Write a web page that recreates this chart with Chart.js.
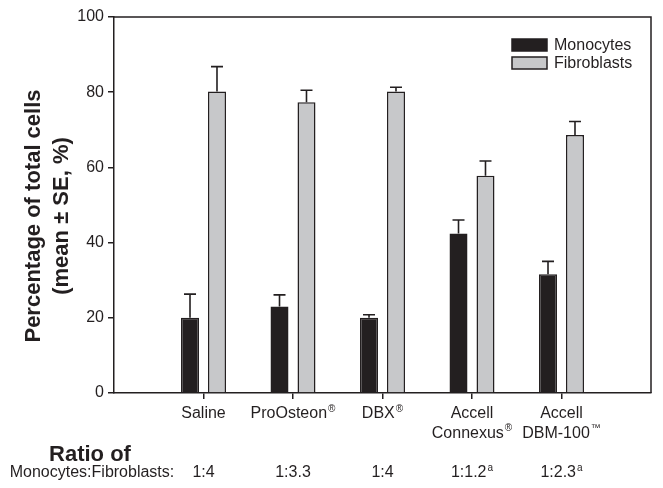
<!DOCTYPE html>
<html>
<head>
<meta charset="utf-8">
<script src="https://cdn.jsdelivr.net/npm/chart.js@4"></script>
<style>
    html, body { margin: 0; padding: 0; background: #fff; }
    #wrap { width: 663px; height: 488px; }
</style>
</head>
<body>
<div id="wrap"><canvas id="chart" width="663" height="488"></canvas></div>
<script>
// data
const categories = ['Saline', 'ProOsteon®', 'DBX®', 'Accell Connexus®', 'Accell DBM-100™'];
const monocytes = [20.0, 23.0, 20.0, 42.4, 31.6];
const monocytesSE = [6.3, 3.1, 0.8, 3.6, 3.4];
const fibroblasts = [80.2, 77.3, 80.2, 57.8, 68.6];
const fibroblastsSE = [6.6, 3.2, 1.1, 3.9, 3.6];
const ratios = ['1:4', '1:3.3', '1:4', '1:1.2', '1:2.3'];
const ratioNotes = ['', '', '', 'a', 'a'];
const yTicks = [0, 20, 40, 60, 80, 100];

const INK = '#231f20';
const FONT = '"Liberation Sans", Arial, sans-serif';

// empty slot at both ends so the groups sit one step in from the frame
const labels = ['', ...categories, ''];
const pad = arr => [null, ...arr, null];

// text with a trailing ®, ™ or note letter drawn small and raised
function drawSup(ctx, main, sup, x, y, size) {
    ctx.font = size + 'px ' + FONT;
    const w1 = ctx.measureText(main).width;
    ctx.font = Math.round(size * 0.6) + 'px ' + FONT;
    const w2 = sup ? ctx.measureText(sup).width + 1 : 0;
    const left = x - (w1 + w2) / 2;
    ctx.textAlign = 'left';
    ctx.font = size + 'px ' + FONT;
    ctx.fillText(main, left, y);
    if (sup) {
        ctx.font = Math.round(size * 0.6) + 'px ' + FONT;
        ctx.fillText(sup, left + w1 + 1, y - size * 0.4);
    }
}

function splitSup(text) {
    const m = text.match(/^(.*?)([®™]?)$/);
    return [m[1], m[2]];
}

const errorBarPlugin = {
    id: 'errorBars',
    afterDatasetsDraw(chart) {
        const ctx = chart.ctx;
        const y = chart.scales.y;
        const errs = [monocytesSE, fibroblastsSE];
        ctx.save();
        ctx.strokeStyle = INK;
        ctx.lineWidth = 1.6;
        chart.data.datasets.forEach((ds, i) => {
            const meta = chart.getDatasetMeta(i);
            meta.data.forEach((bar, j) => {
                const v = ds.data[j];
                if (v === null) return;
                const top = y.getPixelForValue(v + errs[i][j - 1]);
                ctx.beginPath();
                ctx.moveTo(bar.x, bar.y);
                ctx.lineTo(bar.x, top);
                ctx.moveTo(bar.x - 6, top);
                ctx.lineTo(bar.x + 6, top);
                ctx.stroke();
            });
        });
        ctx.restore();
    }
};

const decorPlugin = {
    id: 'decor',
    afterDraw(chart) {
        const ctx = chart.ctx;
        const area = chart.chartArea;
        const x = chart.scales.x;
        ctx.save();

        // top and right frame
        ctx.strokeStyle = INK;
        ctx.lineWidth = 1.5;
        ctx.beginPath();
        ctx.moveTo(area.left, area.top);
        ctx.lineTo(area.right, area.top);
        ctx.lineTo(area.right, area.bottom);
        ctx.stroke();

        ctx.fillStyle = INK;
        ctx.textBaseline = 'alphabetic';

        // category labels
        categories.forEach((name, i) => {
            const cx = x.getPixelForValue(i + 1);
            const lines = name.indexOf(' ') > 0 ? [name.slice(0, name.indexOf(' ')), name.slice(name.indexOf(' ') + 1)] : [name];
            lines.forEach((line, k) => {
                const [main, sup] = splitSup(line);
                drawSup(ctx, main, sup, cx, 418 + k * 19.5, 16);
            });
            drawSup(ctx, ratios[i], ratioNotes[i], cx, 477, 16);
        });

        // ratio row caption
        ctx.textAlign = 'center';
        ctx.font = 'bold 22px ' + FONT;
        ctx.fillText('Ratio of', 90, 461);
        ctx.font = '16px ' + FONT;
        ctx.fillText('Monocytes:Fibroblasts:', 92, 477);

        // y axis title
        ctx.save();
        ctx.translate(0, 216);
        ctx.rotate(-Math.PI / 2);
        ctx.font = 'bold 22px ' + FONT;
        ctx.textBaseline = 'middle';
        ctx.fillText('Percentage of total cells', 0, 34);
        ctx.fillText('(mean ± SE, %)', 0, 62);
        ctx.restore();

        // legend
        const lx = 512, ly = [39, 57];
        chart.data.datasets.forEach((ds, i) => {
            ctx.fillStyle = ds.backgroundColor;
            ctx.fillRect(lx, ly[i], 35, 12);
            ctx.strokeStyle = INK;
            ctx.lineWidth = 1.5;
            ctx.strokeRect(lx, ly[i], 35, 12);
            ctx.fillStyle = INK;
            ctx.textAlign = 'left';
            ctx.textBaseline = 'middle';
            ctx.font = '16px ' + FONT;
            ctx.fillText(ds.label, lx + 42, ly[i] + 6.5);
        });

        ctx.restore();
    }
};

new Chart(document.getElementById('chart'), {
    type: 'bar',
    data: {
        labels: labels,
        datasets: [
            {
                label: 'Monocytes',
                data: pad(monocytes),
                backgroundColor: INK,
                borderColor: INK,
                borderWidth: 1.5,
            },
            {
                label: 'Fibroblasts',
                data: pad(fibroblasts),
                backgroundColor: '#c7c8ca',
                borderColor: INK,
                borderWidth: 1.5,
            }
        ]
    },
    options: {
        responsive: false,
        animation: false,
        events: [],
        categoryPercentage: 0.603,
        barPercentage: 0.667,
        layout: {
            padding: { left: 0, top: 17, right: 12, bottom: 89 }
        },
        plugins: {
            legend: { display: false },
            tooltip: { enabled: false },
        },
        scales: {
            x: {
                offset: false,
                grid: {
                    offset: false,
                    drawOnChartArea: false,
                    drawTicks: true,
                    tickLength: 6,
                    color: INK,
                    lineWidth: 1.5,
                },
                border: { color: INK, width: 1.5 },
                ticks: { display: false },
                afterBuildTicks: scale => {
                    scale.ticks = scale.ticks.filter(t => t.value >= 1 && t.value <= categories.length);
                },
                afterFit: scale => { scale.height = 6; },
            },
            y: {
                min: 0,
                max: 100,
                afterBuildTicks: scale => {
                    scale.ticks = yTicks.map(v => ({ value: v }));
                },
                grid: {
                    drawOnChartArea: false,
                    drawTicks: true,
                    tickLength: 6,
                    color: INK,
                    lineWidth: 1.5,
                },
                border: { color: INK, width: 1.5 },
                ticks: {
                    color: INK,
                    padding: 4,
                    font: { family: FONT, size: 16 },
                },
                afterFit: scale => { scale.width = 114; },
            }
        }
    },
    plugins: [errorBarPlugin, decorPlugin]
});
</script>
</body>
</html>
